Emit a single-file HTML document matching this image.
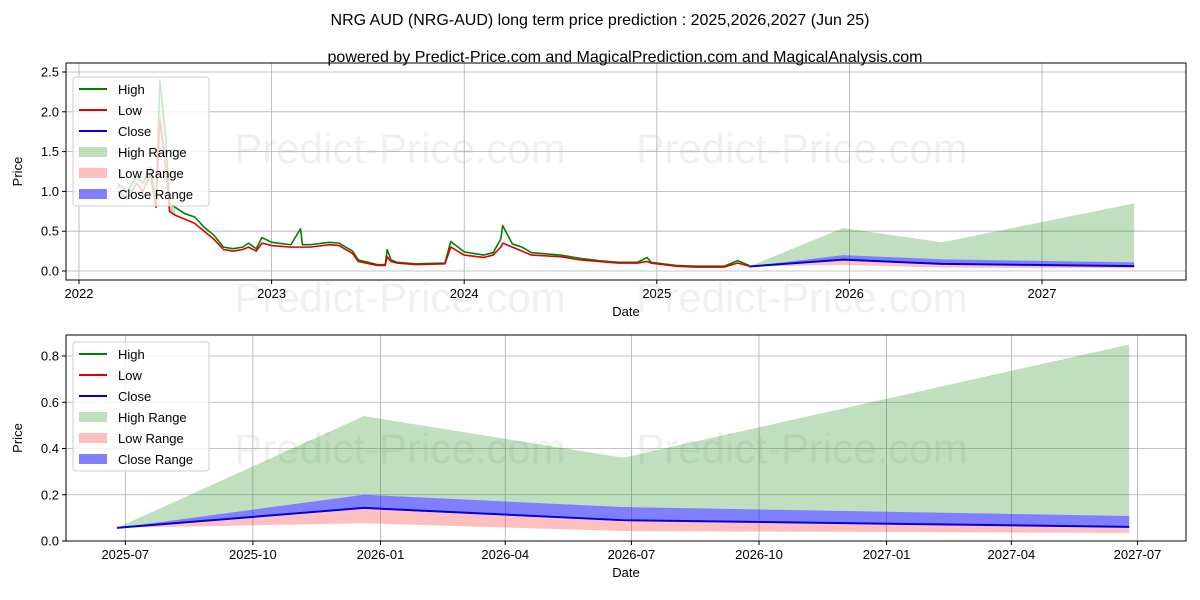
<!DOCTYPE html>
<html><head><meta charset="utf-8"><style>
body{margin:0;background:#fff;}
svg{display:block;font-family:"Liberation Sans","DejaVu Sans",sans-serif;}
</style></head><body>
<svg id="c" width="1200" height="600">
<text x="600" y="25" text-anchor="middle" font-size="16">NRG AUD (NRG-AUD) long term price prediction : 2025,2026,2027 (Jun 25)</text>
<text x="625" y="62" text-anchor="middle" font-size="16">powered by Predict-Price.com and MagicalPrediction.com and MagicalAnalysis.com</text>
</svg>
<script>
// historical data (fractional year)
const histDates=[2022.2,2022.25,2022.3,2022.33,2022.37,2022.4,2022.42,2022.45,2022.47,2022.5,2022.55,2022.6,2022.65,2022.7,2022.75,2022.8,2022.85,2022.88,2022.92,2022.95,2023.0,2023.1,2023.15,2023.16,2023.2,2023.3,2023.35,2023.42,2023.45,2023.55,2023.59,2023.6,2023.62,2023.65,2023.75,2023.9,2023.93,2024.0,2024.1,2024.15,2024.19,2024.2,2024.25,2024.3,2024.35,2024.5,2024.6,2024.7,2024.8,2024.9,2024.95,2024.97,2025.0,2025.1,2025.2,2025.35,2025.42,2025.48];
const histLow=[1.0,0.9,1.1,1.0,1.2,0.8,1.9,1.3,0.75,0.7,0.65,0.6,0.5,0.4,0.27,0.25,0.27,0.3,0.25,0.35,0.32,0.3,0.3,0.3,0.3,0.33,0.32,0.22,0.12,0.07,0.07,0.18,0.12,0.1,0.08,0.09,0.3,0.2,0.17,0.2,0.3,0.35,0.3,0.25,0.2,0.18,0.14,0.12,0.1,0.1,0.12,0.1,0.09,0.06,0.05,0.05,0.1,0.06];
const histHigh=[1.1,1.0,1.2,1.1,1.3,0.9,2.4,1.7,0.85,0.8,0.72,0.68,0.55,0.45,0.3,0.28,0.3,0.35,0.28,0.42,0.36,0.33,0.53,0.33,0.33,0.36,0.35,0.25,0.14,0.08,0.08,0.27,0.14,0.11,0.09,0.1,0.37,0.24,0.2,0.23,0.4,0.57,0.34,0.3,0.23,0.2,0.16,0.13,0.11,0.11,0.17,0.11,0.1,0.07,0.06,0.06,0.13,0.07];
// prediction data (days since 2025-06-25)
const predDays=[0,178,365,730];
const predHigh=[0.057,0.54,0.36,0.85];
const predCloseUp=[0.057,0.2,0.147,0.108];
const predClose=[0.057,0.143,0.09,0.061];
const predLow=[0.057,0.077,0.043,0.035];
const topYTicks=[0,0.5,1,1.5,2,2.5];
const topXTicks=[2022,2023,2024,2025,2026,2027];
const botYTicks=[0,0.2,0.4,0.6,0.8];
const botXTicks=["2025-07","2025-10","2026-01","2026-04","2026-07","2026-10","2027-01","2027-04","2027-07"];
const botXTickDays=[6,98,190,280,371,463,555,645,736];

const NS="http://www.w3.org/2000/svg";
const svg=document.getElementById('c');
function mk(t,a,p){const e=document.createElementNS(NS,t);for(const k in a)e.setAttribute(k,a[k]);(p||svg).appendChild(e);return e;}
const predStartYear=2025.48;

function panel(L,T,R,B,xs,ys,isTop){
  const g=mk('g',{});
  
  
  // watermarks
  const wm=isTop?[[400,163],[802,163],[400,312],[802,312]]:[[400,463],[802,463]];
  wm.forEach(w=>{const t=mk('text',{x:w[0],y:w[1],'text-anchor':'middle','font-size':42,fill:'#000','fill-opacity':0.06},g);t.textContent='Predict-Price.com';
    });
  return g;
}
function grid(g,L,T,R,B,xTicks,yTicks,xs,ys,xlab,ylab,yfmt){
  xTicks.forEach(v=>{const x=xs(v.v);mk('line',{x1:x,x2:x,y1:T,y2:B,stroke:'#b0b0b0','stroke-width':0.8},g);
    mk('line',{x1:x,x2:x,y1:B,y2:B+4,stroke:'#000'},g);
    const t=mk('text',{x:x,y:B+18,'text-anchor':'middle','font-size':13},g);t.textContent=v.l;
    });
  yTicks.forEach(v=>{const y=ys(v);mk('line',{x1:L,x2:R,y1:y,y2:y,stroke:'#b0b0b0','stroke-width':0.8},g);
    mk('line',{x1:L-4,x2:L,y1:y,y2:y,stroke:'#000'},g);
    const t=mk('text',{x:L-7,y:y+4.5,'text-anchor':'end','font-size':13},g);t.textContent=yfmt(v);
    });
  const xl=mk('text',{x:(L+R)/2,y:B+36,'text-anchor':'middle','font-size':13},g);xl.textContent=xlab;
  
  const yl=mk('text',{x:0,y:0,'text-anchor':'middle','font-size':13,transform:`translate(${L-44},${(T+B)/2}) rotate(-90)`},g);yl.textContent=ylab;
  
}
function area(g,xsArr,up,lo,fill,op,name){
  let d='M'+xsArr.map((x,i)=>x+','+up[i]).join('L');
  for(let i=xsArr.length-1;i>=0;i--)d+='L'+xsArr[i]+','+lo[i];
  const p=mk('path',{d:d+'Z',fill:fill,'fill-opacity':op,stroke:'none'},g);
  
}
function line(g,xsArr,ysArr,col,w,name){
  const p=mk('polyline',{points:xsArr.map((x,i)=>x+','+ysArr[i]).join(' '),fill:'none',stroke:col,'stroke-width':w,'stroke-linejoin':'round'},g);
  
}
function drawPred(g,px,ys){
  area(g,px,predHigh.map(ys),predCloseUp.map(ys),'green',0.25,'high-range');
  area(g,px,predClose.map(ys),predLow.map(ys),'#ff0000',0.25,'low-range');
  area(g,px,predCloseUp.map(ys),predClose.map(ys),'blue',0.5,'close-range');
  line(g,px,predClose.map(ys),'#0000dd',2,'close-line');
}
function legend(g,x,y){
  const b=mk('rect',{x:x,y:y,width:136,height:129,rx:3,fill:'#fff','fill-opacity':0.8,stroke:'#ccc'},g);
  
  const items=[['High','line','green',1],['Low','line','#dd0000',1],['Close','line','#0000dd',1],['High Range','box','green',0.25],['Low Range','box','#ff0000',0.25],['Close Range','box','blue',0.5]];
  items.forEach((it,i)=>{const cy=y+12+i*21;
    if(it[1]=='line')mk('line',{x1:x+6,x2:x+34,y1:cy,y2:cy,stroke:it[2],'stroke-width':2},g);
    else mk('rect',{x:x+6,y:cy-5,width:28,height:10,fill:it[2],'fill-opacity':it[3]},g);
    const t=mk('text',{x:x+45,y:cy+5,'font-size':13},g);t.textContent=it[0];
    });
}
// TOP
(function(){
  const L=66,T=63,R=1186,B=280;
  const xs=v=>79+(v-2022)*192.6, ys=v=>271-v*79.6;
  const g=panel(L,T,R,B,xs,ys,true);
  grid(g,L,T,R,B,topXTicks.map(v=>({v:v,l:String(v)})),topYTicks,xs,ys,'Date','Price',v=>v.toFixed(1));
  const hx=histDates.map(xs);
  area(g,hx.slice(0,10),histHigh.slice(0,10).map(ys),histLow.slice(0,10).map(ys),'green',0.25,'hist-high-range');
  line(g,hx,histHigh.map(ys),'green',1.6,'high-line');
  line(g,hx,histLow.map(ys),'#dd0000',1.6,'low-line');
  drawPred(g,predDays.map(d=>xs(predStartYear+d/365.25)),ys);
  mk('rect',{x:L,y:T,width:R-L,height:B-T,fill:'none',stroke:'#000'},g);
  legend(g,73,77);
})();
// BOTTOM
(function(){
  const L=66,T=335,R=1186,B=541;
  const xs=d=>117+d*1.3866, ys=v=>541-v*231.25;
  const g=panel(L,T,R,B,xs,ys,false);
  grid(g,L,T,R,B,botXTicks.map((l,i)=>({v:botXTickDays[i],l:l})),botYTicks,xs,ys,'Date','Price',v=>v.toFixed(1));
  drawPred(g,predDays.map(xs),ys);
  mk('rect',{x:L,y:T,width:R-L,height:B-T,fill:'none',stroke:'#000'},g);
  legend(g,73,342);
})();
</script>
</body></html>
